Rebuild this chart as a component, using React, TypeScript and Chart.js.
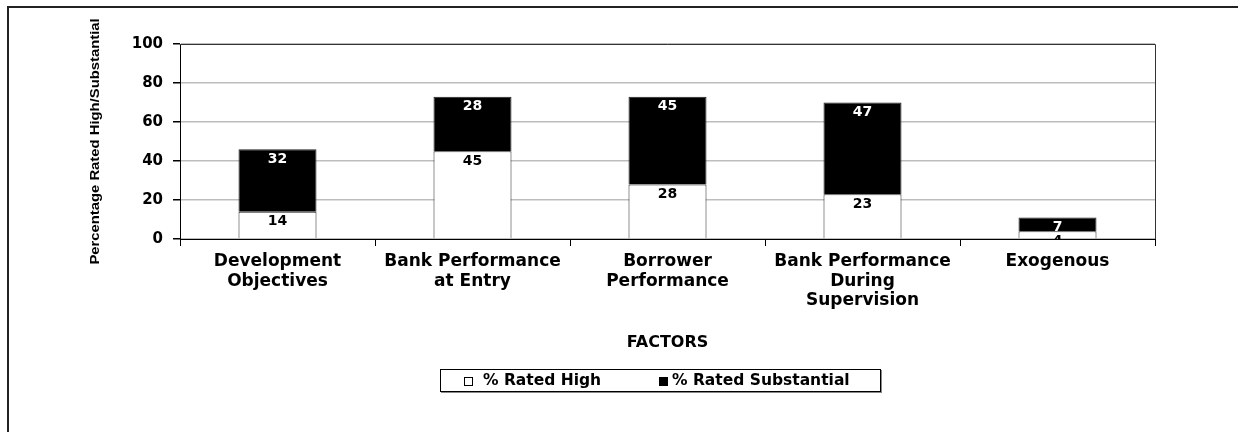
import React, { useEffect, useRef } from "react";
import { Chart, registerables } from "chart.js";

Chart.register(...registerables);

const categories: string[][] = [
  ["Development", "Objectives"],
  ["Bank Performance", "at Entry"],
  ["Borrower", "Performance"],
  ["Bank Performance", "During", "Supervision"],
  ["Exogenous"],
];
const ratedHigh = [14, 45, 28, 23, 4];
const ratedSubstantial = [32, 28, 45, 47, 7];
const yTicks = [0, 20, 40, 60, 80, 100];
const seriesNames = ["% Rated High", "% Rated Substantial"];
const yTitle = "Percentage Rated High/Substantial";
const xTitle = "FACTORS";

const WIDE = '"DejaVu Sans", Verdana, sans-serif';

const extras = {
  id: "extras",
  afterDatasetsDraw(chart: any) {
    const { ctx, chartArea } = chart;
    ctx.save();
    ctx.beginPath();
    ctx.rect(chartArea.left, chartArea.top, chartArea.right - chartArea.left, chartArea.bottom - chartArea.top);
    ctx.clip();
    ctx.font = `bold 14px ${WIDE}`;
    ctx.textAlign = "center";
    ctx.textBaseline = "top";
    chart.data.datasets.forEach((ds: any, i: number) => {
      const meta = chart.getDatasetMeta(i);
      meta.data.forEach((el: any, j: number) => {
        const top = Math.min(el.y, el.base);
        ctx.fillStyle = i === 0 ? "#000" : "#fff";
        ctx.fillText(String(ds.data[j]), el.x, top + 3);
      });
    });
    ctx.restore();
  },
  afterDraw(chart: any) {
    const { ctx, chartArea } = chart;
    const { left, top, right, bottom } = chartArea;
    ctx.save();
    ctx.strokeStyle = "#333";
    ctx.lineWidth = 1;
    ctx.beginPath();
    ctx.moveTo(left, Math.round(top) + 0.5);
    ctx.lineTo(Math.round(right) + 0.5, Math.round(top) + 0.5);
    ctx.lineTo(Math.round(right) + 0.5, bottom);
    ctx.stroke();
    // rotated y-axis title
    ctx.translate(87, (top + bottom) / 2);
    ctx.rotate(-Math.PI / 2);
    ctx.scale(1.14, 1);
    ctx.font = 'bold 13px "Liberation Sans", Arial, sans-serif';
    ctx.fillStyle = "#000";
    ctx.textAlign = "center";
    ctx.textBaseline = "middle";
    ctx.fillText(yTitle, 0, 0);
    ctx.restore();
  },
};

export default function App() {
  const ref = useRef<HTMLCanvasElement | null>(null);

  useEffect(() => {
    document.body.style.overflow = "hidden";
    if (!ref.current) return;
    const chart = new Chart(ref.current, {
      type: "bar",
      data: {
        labels: categories,
        datasets: [
          {
            label: seriesNames[0],
            data: ratedHigh,
            backgroundColor: "#ffffff",
            borderColor: "#222",
            borderWidth: 1,
            barPercentage: 0.4,
            categoryPercentage: 1,
          },
          {
            label: seriesNames[1],
            data: ratedSubstantial,
            backgroundColor: "#000000",
            borderColor: "#222",
            borderWidth: 1,
            barPercentage: 0.4,
            categoryPercentage: 1,
          },
        ],
      },
      options: {
        animation: false,
        responsive: false,
        maintainAspectRatio: false,
        layout: { padding: { left: 0, right: 75, top: 36, bottom: 0 } },
        plugins: { legend: { display: false }, tooltip: { enabled: false } },
        scales: {
          x: {
            stacked: true,
            grid: { offset: true, drawOnChartArea: false, tickLength: 7, tickColor: "#000", color: "#000" },
            border: { color: "#000", width: 1 },
            ticks: {
              color: "#000",
              font: { family: WIDE, size: 17, weight: "bold", lineHeight: 1.15 },
              padding: 6,
              maxRotation: 0,
              autoSkip: false,
            },
            title: {
              display: true,
              text: xTitle,
              color: "#000",
              font: { family: WIDE, size: 16, weight: "bold", lineHeight: 1.2 },
              padding: { top: 0, bottom: 72 },
            },
            afterFit: (s: any) => {
              s.height = 185;
            },
          },
          y: {
            stacked: true,
            min: 0,
            max: 100,
            ticks: {
              color: "#000",
              font: { family: WIDE, size: 15, weight: "bold" },
              padding: 10,
            },
            afterBuildTicks: (s: any) => {
              s.ticks = yTicks.map((v) => ({ value: v }));
            },
            grid: { color: "#bdbdbd", tickColor: "#000", tickLength: 7, lineWidth: 1.5 },
            border: { color: "#000", width: 1 },
            afterFit: (s: any) => {
              s.width = 172;
            },
          },
        },
      } as any,
      plugins: [extras],
    });
    return () => chart.destroy();
  }, []);

  const legendText: React.CSSProperties = {
    position: "absolute",
    top: 0,
    height: 21,
    lineHeight: "21px",
    fontFamily: WIDE,
    fontWeight: "bold",
    fontSize: 15.5,
    color: "#000",
    whiteSpace: "nowrap",
  };

  return (
    <div style={{ position: "relative", width: 1222, height: 416 }}>
      <div
        style={{
          position: "fixed",
          top: 6,
          left: 7,
          width: 1240,
          height: 440,
          borderTop: "2px solid #222",
          borderLeft: "2px solid #222",
          pointerEvents: "none",
        }}
      />
      <canvas ref={ref} width={1222} height={416} style={{ display: "block", width: 1222, height: 416 }} />
      <div
        style={{
          position: "absolute",
          left: 432,
          top: 361,
          width: 441,
          height: 23,
          boxSizing: "border-box",
          border: "1px solid #000",
          boxShadow: "1px 1px 0 #888",
          background: "#fff",
        }}
      >
        <div
          style={{
            position: "absolute",
            left: 23,
            top: 7,
            width: 9,
            height: 9,
            boxSizing: "border-box",
            border: "1px solid #000",
            background: "#fff",
          }}
        />
        <span style={{ ...legendText, left: 42 }}>{seriesNames[0]}</span>
        <div
          style={{
            position: "absolute",
            left: 218,
            top: 7,
            width: 9,
            height: 9,
            background: "#000",
          }}
        />
        <span style={{ ...legendText, left: 231 }}>{seriesNames[1]}</span>
      </div>
    </div>
  );
}
